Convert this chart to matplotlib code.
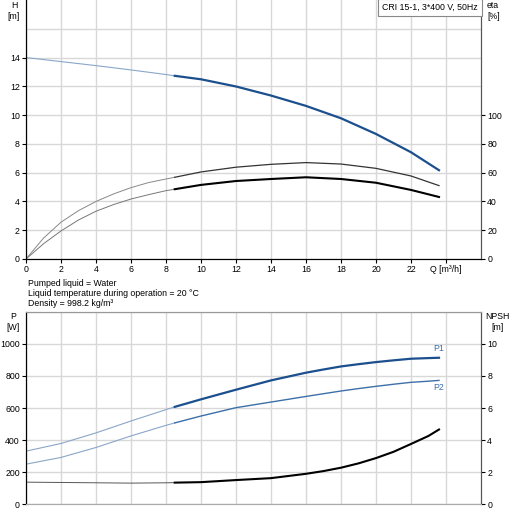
import numpy as np
import matplotlib
matplotlib.use("Agg")
import matplotlib.pyplot as plt

plt.rcParams['font.family'] = ['Liberation Sans', 'DejaVu Sans']
plt.rcParams['font.size'] = 6.3

# flow points [m3/h] for the upper chart
q_top = [0, 1, 2, 3, 4, 5, 6, 7, 8, 8.5, 10, 12, 14, 16, 18, 20, 22, 23.6]
# head [m]
head = [14.0, 13.86, 13.72, 13.58, 13.44, 13.29, 13.14, 12.98, 12.82, 12.73,
        12.49, 11.99, 11.36, 10.64, 9.78, 8.69, 7.42, 6.17]
# efficiencies [%]
eta_pump = [0, 14.5, 25.6, 33.6, 40, 45.2, 49.6, 53.1, 55.6, 56.8, 60.5, 63.8,
            65.8, 67, 66, 63, 57.7, 51]
eta_total = [0, 10.6, 19.5, 27.1, 33.2, 37.8, 41.7, 44.7, 47.5, 48.5, 51.5,
             54.2, 55.6, 56.8, 55.6, 53, 48, 43.1]

# flow points [m3/h] for the lower chart
q_bot = [0, 2, 4, 6, 8, 8.5, 10, 12, 14, 16, 17, 18, 19, 20, 21, 22, 23, 23.6]
# power [W]
p1 = [331, 379, 445, 519, 590, 607, 654, 714, 772, 820, 840, 859, 873, 886,
      897, 907, 911, 913]
p2 = [250, 292, 354, 426, 492, 507, 550, 602, 637, 672, 689, 706, 721, 735,
      748, 760, 767, 772]
# NPSH [m]
npsh = [1.38, 1.36, 1.34, 1.32, 1.34, 1.35, 1.38, 1.51, 1.63, 1.90, 2.07,
        2.28, 2.55, 2.88, 3.27, 3.76, 4.26, 4.66]

q_split = 8.5
q_ticks = list(range(0, 23, 2))

qt = np.array(q_top)
qb = np.array(q_bot)

grid_c = '#d8d8d8'
dark_blue = '#1b4f8e'
light_blue = '#8aa6c8'
mid_blue = '#3d6fa8'


def two_part(axis, x, y, c_lo, w_lo, c_hi, w_hi):
    # thin line below the split flow, heavier line above it
    y = np.array(y)
    axis.plot(x[x <= q_split], y[x <= q_split], color=c_lo, lw=w_lo)
    axis.plot(x[x >= q_split], y[x >= q_split], color=c_hi, lw=w_hi)


fig = plt.figure(figsize=(5.12, 5.19), dpi=100)

# --- top: head and efficiency
ax = fig.add_axes([26/512, 1-259/519, 455/512, 259/519])
ax.set_xlim(0, 26)
ax.set_ylim(0, 18)
ax.set_xticks(list(range(0, 25, 2)))
ax.set_xticklabels([str(v) for v in q_ticks] + ['Q [m³/h]'])
ax.set_yticks(range(0, 15, 2))
ax.set_yticks([16], minor=True)
ax.grid(True, which='both', color=grid_c, lw=1)
ax.tick_params(which='minor', length=0)
ax.tick_params(length=3, width=0.8, pad=1.5)
ax.spines['top'].set_visible(False)
ax.spines['right'].set_color('#555555')
ax.set_axisbelow(True)

two_part(ax, qt, head, light_blue, 0.8, dark_blue, 1.6)

ax2 = ax.twinx()
ax2.set_ylim(0, 180)
ax2.set_yticks(range(0, 101, 20))
ax2.tick_params(length=3, width=0.8, pad=1.5)
ax2.spines['top'].set_visible(False)
ax2.spines['right'].set_color('#555555')
two_part(ax2, qt, eta_pump, '#888888', 0.7, '#333333', 0.9)
two_part(ax2, qt, eta_total, '#777777', 0.7, 'black', 1.5)

fig.text(14/512, 1-11/519, 'H\n[m]', ha='center', va='center',
         linespacing=1.3)
fig.text(487/512, 1-11/519, 'eta\n[%]', ha='left', va='center',
         linespacing=1.3)
fig.text(430/512, 1-7.5/519, 'CRI 15-1, 3*400 V, 50Hz', ha='center',
         va='center',
         bbox=dict(boxstyle='square,pad=0.45', fc='white', ec='#888888',
                   lw=0.8))

# liquid info
for i, line in enumerate(['Pumped liquid = Water',
                          'Liquid temperature during operation = 20 °C',
                          'Density = 998.2 kg/m³']):
    fig.text(28/512, 1-(283.5+10.2*i)/519, line, ha='left', va='center')

# --- bottom: power and NPSH
bx = fig.add_axes([26/512, 1-504.3/519, 455/512, 192.6/519])
bx.set_xlim(0, 26)
bx.set_ylim(0, 1200)
bx.set_xticks(list(range(0, 25, 2)))
bx.set_xticklabels([])
bx.tick_params(axis='x', length=0)
bx.set_yticks(range(0, 1001, 200))
bx.set_yticks([1200], minor=True)
bx.grid(True, which='both', color=grid_c, lw=1)
bx.tick_params(axis='y', which='minor', length=0)
bx.tick_params(axis='y', length=3, width=0.8, pad=1.5)
bx.spines['top'].set_color('#999999')
bx.spines['bottom'].set_color('#aaaaaa')
bx.spines['right'].set_color('#555555')
bx.set_axisbelow(True)

two_part(bx, qb, p1, light_blue, 0.8, dark_blue, 1.6)
two_part(bx, qb, p2, light_blue, 0.8, mid_blue, 1.0)
bx.text(q_bot[-1], p1[-1] + 28, 'P1', color=mid_blue, ha='center',
        va='bottom')
bx.text(q_bot[-1], p2[-1] - 18, 'P2', color=mid_blue, ha='center',
        va='top')

bx2 = bx.twinx()
bx2.set_ylim(0, 12)
bx2.set_yticks(range(0, 11, 2))
bx2.tick_params(length=3, width=0.8, pad=1.5)
bx2.spines['top'].set_color('#999999')
bx2.spines['bottom'].set_color('#aaaaaa')
bx2.spines['right'].set_color('#555555')
two_part(bx2, qb, npsh, '#555555', 0.7, 'black', 1.5)

fig.text(13/512, 1-(270+52)/519, 'P\n[W]', ha='center', va='center',
         linespacing=1.3)
fig.text(497/512, 1-(270+52)/519, 'NPSH\n[m]', ha='center', va='center',
         linespacing=1.3)

fig.savefig('out.png', dpi=100)
